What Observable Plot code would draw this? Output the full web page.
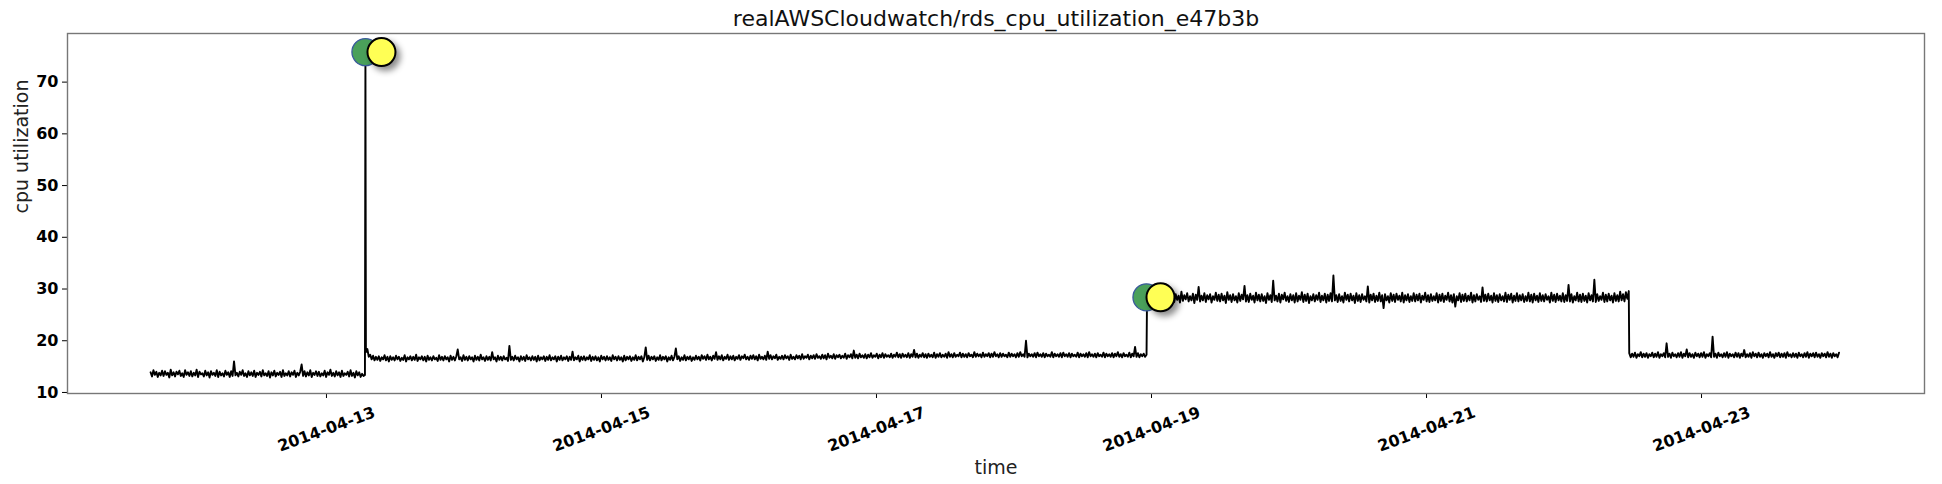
<!DOCTYPE html>
<html><head><meta charset="utf-8">
<script src="https://cdn.jsdelivr.net/npm/d3@7"></script>
<script src="https://cdn.jsdelivr.net/npm/@observablehq/plot@0.6"></script>
<style>
body{margin:0;background:#fff;}
svg{font-family:"DejaVu Sans",sans-serif;}
g[aria-label="y-axis tick label"] text{font-weight:bold;}
</style>
</head><body><div id="chart"></div>
<script>
// ---- data ----
const titleText = "realAWSCloudwatch/rds_cpu_utilization_e47b3b";
const xLabel = "time";
const yLabel = "cpu utilization";
const yTicks = [10, 20, 30, 40, 50, 60, 70];
const xTickLabels = ["2014-04-13", "2014-04-15", "2014-04-17", "2014-04-19", "2014-04-21", "2014-04-23"];

const seg1Range = ["2014-04-11T17:18Z", "2014-04-13T06:43Z"];
const seg1 = [13.9,13.1,14.3,13.4,14.0,13.0,13.8,13.3,14.2,13.2,
14.1,13.4,13.8,12.9,14.4,13.3,13.9,13.1,14.0,13.5,
14.2,13.2,13.7,13.0,14.3,13.4,13.9,13.2,14.1,13.1,
13.8,13.3,14.4,13.0,14.0,13.5,13.7,13.1,14.2,13.3,
13.9,12.9,14.1,13.4,13.8,13.2,14.3,13.0,14.0,13.3,
13.7,13.1,14.2,13.4,13.9,13.0,14.1,13.2,16.0,13.3,
13.8,13.1,14.0,13.4,14.3,13.2,13.7,13.0,14.1,13.3,
13.9,13.2,14.2,13.0,13.8,13.4,14.0,13.1,14.3,13.3,
13.7,13.2,14.1,12.9,13.9,13.3,14.2,13.1,13.8,13.4,
14.0,13.0,14.3,13.2,13.7,13.3,14.1,13.1,13.9,13.4,
14.2,13.0,13.8,13.3,14.0,15.4,13.2,14.1,13.1,13.9,
13.3,14.3,13.0,13.8,13.4,14.1,13.2,14.0,13.1,13.7,
13.3,14.2,13.0,13.9,13.4,14.4,13.2,13.8,13.1,14.1,
13.3,13.9,13.0,14.2,13.2,13.7,13.4,14.0,13.1,14.3,
13.2,13.8,12.9,14.1,13.3,13.9,13.0,13.6,13.2,13.4];

const spikeTime = "2014-04-13T06:48Z";
const spikeValue = 75.7;

const seg2Range = ["2014-04-13T06:53Z", "2014-04-18T23:08Z"];
const seg2 = [17.8,18.4,16.9,17.3,16.4,17.1,16.2,16.9,16.3,17.0,
16.1,16.8,16.4,17.2,16.2,16.9,16.0,17.0,16.3,16.8,
16.2,17.1,16.4,16.9,16.1,16.7,16.3,17.2,16.0,16.8,
16.4,17.0,16.2,16.9,16.3,17.3,16.1,16.8,16.4,17.0,
16.2,16.9,16.0,17.1,16.3,16.8,16.2,17.0,16.4,16.7,
16.1,17.2,16.3,16.9,16.2,17.0,16.4,16.8,16.0,17.1,
16.3,16.9,16.2,17.0,18.3,16.4,16.8,16.1,17.2,16.3,
16.9,16.2,17.0,16.4,16.8,16.0,17.1,16.3,16.9,16.2,
17.3,16.4,16.8,16.1,17.0,16.3,16.9,16.2,17.8,16.4,
16.8,16.0,17.1,16.3,16.9,16.2,17.0,16.4,16.7,16.1,
19.0,16.3,16.9,16.2,17.1,16.4,16.8,16.0,17.0,16.3,
16.9,16.1,17.2,16.4,16.8,16.2,17.0,16.3,16.9,16.0,
17.1,16.2,16.8,16.4,17.0,16.1,16.9,16.3,17.2,16.2,
16.8,16.4,17.0,16.0,16.9,16.3,17.1,16.2,16.8,16.4,
17.0,16.1,16.9,16.3,17.9,16.2,16.8,16.4,17.1,16.0,
16.9,16.3,17.0,16.2,16.8,16.4,17.2,16.1,16.9,16.3,
17.0,16.2,16.8,16.0,17.1,16.4,16.9,16.2,17.0,16.3,
16.8,16.1,17.2,16.4,16.9,16.2,17.0,16.3,16.8,16.0,
17.1,16.2,16.9,16.4,17.0,16.1,16.8,16.3,17.2,16.2,
16.9,16.4,17.0,16.0,16.8,18.7,16.3,17.1,16.2,16.9,
16.4,17.0,16.1,16.8,16.3,17.2,16.2,16.9,16.4,17.0,
16.0,16.8,16.3,17.1,16.2,16.9,18.5,16.4,17.0,16.1,
16.8,16.3,17.2,16.2,16.9,16.4,17.0,16.1,16.8,16.3,
17.1,16.4,16.9,16.2,17.2,16.5,17.0,16.3,17.3,16.4,
16.9,16.2,17.1,16.5,17.8,16.3,17.0,16.4,17.2,16.2,
16.9,16.5,17.3,16.3,17.0,16.4,17.1,16.2,16.9,16.5,
17.2,16.3,17.0,16.6,17.3,16.4,16.9,16.3,17.1,16.5,
17.2,16.4,17.0,16.2,17.3,16.5,16.9,16.4,17.1,16.3,
17.9,16.5,17.2,16.4,17.0,16.6,17.3,16.3,16.9,16.5,
17.1,16.4,17.2,16.6,17.0,16.3,17.3,16.5,16.9,16.4,
17.2,16.6,17.1,16.4,17.4,16.5,17.0,16.7,17.3,16.4,
17.1,16.6,17.2,16.5,17.4,16.7,17.0,16.5,17.3,16.6,
17.2,16.4,17.5,16.7,17.1,16.6,17.4,16.5,17.2,16.8,
17.3,16.6,17.1,16.7,17.5,16.5,17.2,16.8,17.4,16.6,
18.1,16.7,17.3,16.6,17.5,16.8,17.2,16.7,17.4,16.6,
17.3,16.8,17.6,16.7,17.2,16.9,17.5,16.6,17.3,16.8,
17.6,16.7,17.4,16.9,17.2,16.8,17.5,16.7,17.3,16.9,
17.7,16.8,17.4,16.7,17.5,16.9,17.3,16.8,17.6,16.7,
17.4,16.9,18.2,16.8,17.5,16.7,17.3,16.9,17.6,16.8,
17.4,16.7,17.5,16.9,17.3,16.8,17.7,16.7,17.4,16.9,
17.6,16.8,17.3,16.9,17.5,16.7,17.8,16.9,17.4,16.8,
17.6,16.9,17.3,17.0,17.7,16.8,17.5,16.9,17.4,16.8,
17.6,17.0,17.3,16.8,17.8,16.9,17.5,17.0,17.4,16.8,
17.7,16.9,17.4,17.0,17.6,16.8,17.5,16.9,17.8,17.0,
17.4,16.8,17.6,16.9,17.5,17.0,17.3,16.8,17.7,16.9,
17.5,17.0,17.4,16.8,17.6,16.9,17.8,17.0,17.4,16.9,
20.0,16.8,17.5,17.0,17.4,16.9,17.6,16.8,17.7,17.0,
17.4,16.9,17.6,16.8,17.5,17.0,17.3,16.9,17.8,16.8,
17.5,17.0,17.4,16.9,17.6,16.8,17.7,17.0,17.4,16.9,
17.6,16.8,17.5,17.0,17.3,16.9,17.7,16.8,17.5,17.0,
17.4,16.9,17.6,16.8,17.8,17.0,17.4,16.9,17.5,16.8,
17.6,17.0,17.3,16.9,17.7,16.8,17.5,17.0,17.4,16.9,
17.6,16.8,17.5,17.0,17.8,16.9,17.4,16.8,17.6,17.0,
17.3,16.9,17.7,16.8,17.5,17.0,18.8,16.9,17.6,16.8,
17.4,17.0,17.5,16.9,17.3];

const seg3Range = ["2014-04-18T23:13Z", "2014-04-22T11:18Z"];
const seg3 = [28.2,27.6,28.9,27.9,29.2,27.5,28.7,28.0,29.4,27.7,
28.8,27.4,29.1,28.0,28.6,27.6,29.3,27.8,28.9,27.5,
29.0,27.9,28.7,27.4,29.5,27.7,28.8,28.0,29.2,27.6,
28.6,27.8,29.1,27.3,28.9,27.9,30.4,27.6,28.7,27.8,
29.2,27.5,28.8,28.0,29.0,27.4,28.6,27.9,29.3,27.7,
28.9,27.6,29.1,27.8,28.7,27.3,29.4,27.9,28.8,27.5,
29.0,27.8,28.6,27.4,29.2,27.7,28.9,28.0,30.6,27.6,
28.8,27.5,29.1,27.9,28.7,27.4,29.3,27.8,28.9,27.6,
29.0,27.7,28.6,27.3,29.2,27.9,28.8,27.5,31.6,27.8,
28.7,27.6,29.1,27.4,28.9,28.0,29.3,27.7,28.6,27.5,
29.0,27.8,28.8,27.4,29.2,27.6,28.7,27.9,29.4,27.5,
28.9,27.7,29.1,27.3,28.6,27.8,29.0,27.6,28.8,27.9,
29.3,27.5,28.7,27.8,29.1,27.4,28.9,27.7,29.2,27.6,
32.6,27.8,28.8,27.5,29.0,27.7,28.6,27.4,29.3,27.9,
28.9,27.6,29.1,27.8,28.7,27.3,29.2,27.7,28.8,27.5,
29.0,27.9,28.6,27.6,30.5,27.4,28.9,27.8,29.1,27.5,
28.7,27.7,29.3,27.6,28.8,26.3,29.0,27.8,28.6,27.4,
29.2,27.7,28.9,27.5,29.1,27.9,28.7,27.6,29.3,27.4,
28.8,27.8,29.0,27.5,28.6,27.7,29.2,27.6,28.9,27.8,
29.1,27.4,28.7,27.9,29.3,27.6,28.8,27.5,29.0,27.7,
28.6,27.8,29.2,27.4,28.9,27.7,29.1,27.5,28.7,27.9,
29.3,27.6,28.8,27.4,29.0,26.6,28.6,27.8,29.2,27.5,
28.9,27.7,29.1,27.6,28.7,27.8,29.3,27.4,28.8,27.6,
29.0,27.9,28.6,27.5,30.3,27.7,28.9,27.6,29.1,27.8,
28.7,27.4,29.2,27.7,28.8,27.5,29.0,27.8,28.6,27.6,
29.3,27.5,28.9,27.9,29.1,27.4,28.7,27.7,29.2,27.6,
28.8,27.8,29.0,27.5,28.6,27.7,29.3,27.6,28.9,27.4,
29.1,27.8,28.7,27.5,29.2,27.7,28.8,27.6,29.0,27.9,
28.6,27.4,29.3,27.7,28.9,27.5,29.1,27.8,28.7,27.6,
29.2,27.5,28.8,27.7,30.8,27.6,29.0,27.4,28.6,27.8,
29.3,27.6,28.9,27.5,29.1,27.7,28.7,27.4,29.2,27.8,
28.8,27.6,31.8,27.5,29.0,27.7,28.6,27.9,29.3,27.5,
28.9,27.6,29.1,27.8,28.7,27.4,29.2,27.7,28.8,27.6,
29.5,27.8,29.0,27.6,29.4,28.1,29.6];

const seg4Range = ["2014-04-22T11:23Z", "2014-04-24T00:00Z"];
const seg4 = [17.6,16.8,17.5,16.9,17.7,16.7,17.4,17.0,17.8,16.8,
17.5,16.9,17.6,16.7,17.4,17.0,17.7,16.8,17.5,16.9,
17.8,16.7,17.4,17.0,17.6,16.8,19.5,16.9,17.5,16.7,
17.7,17.0,17.4,16.8,17.6,16.9,17.8,16.7,17.5,17.0,
18.3,16.8,17.6,16.9,17.4,16.7,17.7,17.0,17.5,16.8,
17.6,16.9,17.8,16.7,17.4,17.0,17.6,16.8,20.8,16.9,
17.5,16.7,17.7,17.0,17.4,16.8,17.6,16.9,17.8,16.7,
17.5,17.0,17.4,16.8,17.7,16.9,17.6,16.7,17.5,17.0,
18.2,16.8,17.4,16.9,17.6,16.7,17.8,17.0,17.5,16.8,
17.7,16.9,17.4,16.7,17.6,17.0,17.5,16.8,17.8,16.9,
17.4,16.7,17.6,17.0,17.7,16.8,17.5,16.9,17.6,16.7,
17.8,17.0,17.4,16.8,17.6,16.9,17.5,16.7,17.7,17.0,
17.4,16.8,17.6,16.9,17.8,16.7,17.5,17.0,17.6,16.8,
17.7,16.9,17.4,16.7,17.6,17.0,17.5,16.8,17.8,16.9,
17.5,16.7,17.6,17.0,17.4,16.8,17.7];

// anomaly windows (green) and detections (yellow)
const anomalyTimes = ["2014-04-13T06:48Z", "2014-04-18T23:07Z"];
const anomalyValues = [75.8, 28.4];
const detectTimes = ["2014-04-13T09:36Z", "2014-04-19T01:34Z"];
const detectValues = [75.8, 28.4];

const xDomain = ["2014-04-11T02:48Z", "2014-04-24T14:55Z"];
const yDomain = [9.8, 79.4];

// ---- build rows ----
function seg(range, vals) {
  const s = new Date(range[0]).getTime(), e = new Date(range[1]).getTime();
  return vals.map((v, i) => ({t: new Date(s + i * (e - s) / (vals.length - 1)), v}));
}
const series = [
  ...seg(seg1Range, seg1),
  {t: new Date(spikeTime), v: spikeValue},
  ...seg(seg2Range, seg2),
  ...seg(seg3Range, seg3),
  ...seg(seg4Range, seg4)
];
const anomalies = anomalyTimes.map((t, i) => ({t: new Date(t), v: anomalyValues[i]}));
const detections = detectTimes.map((t, i) => ({t: new Date(t), v: detectValues[i]}));
const xTicks = xTickLabels.map(s => new Date(s + "T00:00Z"));

const chart = Plot.plot({
  width: 1942,
  height: 484,
  marginLeft: 67,
  marginRight: 18,
  marginTop: 33,
  marginBottom: 91,
  style: {fontFamily: "DejaVu Sans, sans-serif", background: "#fff", color: "#000", overflow: "visible"},
  x: {type: "utc", domain: xDomain.map(d => new Date(d))},
  y: {domain: yDomain},
  marks: [
    Plot.axisY({ticks: yTicks, tickSize: 5, tickPadding: 4, fontSize: 16, fontWeight: "bold", label: null}),
    Plot.axisX({ticks: xTicks, tickSize: 5, tickFormat: () => "", label: null}),
    Plot.text(xTicks, {x: d => d, text: (d, i) => xTickLabels[i], frameAnchor: "bottom", dy: 36,
      rotate: -20, textAnchor: "middle", lineAnchor: "middle", fontSize: 16, fontWeight: "bold", fill: "#000"}),
    Plot.line(series, {x: "t", y: "v", stroke: "#000", strokeWidth: 1.9}),
    Plot.frame({stroke: "#777", strokeWidth: 1.4}),
    Plot.dot(anomalies, {x: "t", y: "v", r: 13.5, fill: "#4aa05a", stroke: "#3a5a9c", strokeWidth: 1.3}),
    Plot.dot(detections, {x: "t", y: "v", r: 14, fill: "#ffff55", stroke: "#000", strokeWidth: 2}),
    Plot.text([titleText], {frameAnchor: "top", dy: -15, text: d => d, fontSize: 22, lineAnchor: "middle", fill: "#111"}),
    Plot.text([yLabel], {frameAnchor: "left", dx: -46, rotate: -90, text: d => d, fontSize: 19, lineAnchor: "middle", fill: "#222"}),
    Plot.text([xLabel], {frameAnchor: "bottom", dy: 74, text: d => d, fontSize: 19, lineAnchor: "middle", fill: "#222"})
  ]
});
document.getElementById("chart").appendChild(chart);
const dots = chart.querySelectorAll('g[aria-label="dot"]');
if (dots.length > 1) dots[dots.length - 1].style.filter = "drop-shadow(4px 4px 3px rgba(0,0,0,0.45))";
</script>
</body></html>
